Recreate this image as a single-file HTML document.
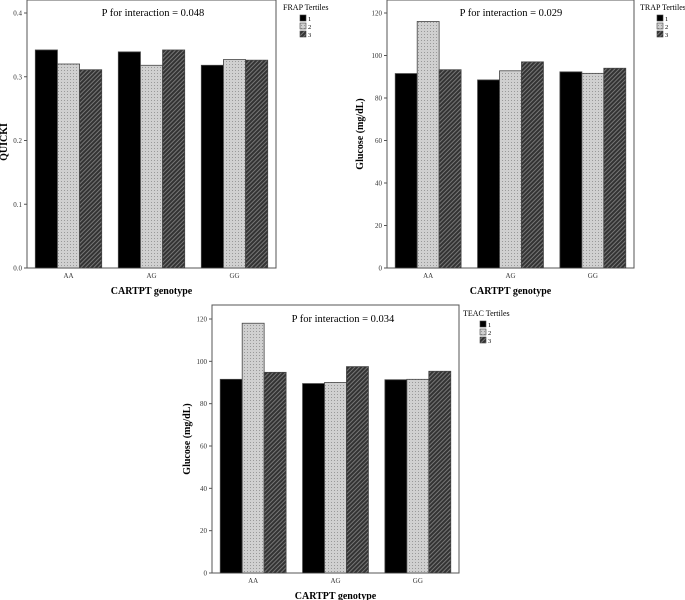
<!DOCTYPE html>
<html><head><meta charset="utf-8"><style>
body{margin:0;background:#fff;}
svg{display:block;font-family:"Liberation Serif",serif;}
</style></head><body>
<svg id="c" width="685" height="600" viewBox="0 0 685 600">
<defs>
<pattern id="dots" width="3" height="3" patternUnits="userSpaceOnUse">
<rect width="3" height="3" fill="#d0d0d0"/><rect x="1" y="1" width="1" height="1" fill="#999"/>
</pattern>
<pattern id="hatch" width="3" height="3" patternUnits="userSpaceOnUse" patternTransform="rotate(45)">
<rect width="3" height="3" fill="#333"/><rect width="1" height="3" fill="#777"/>
</pattern>
</defs>
</svg>
<script>
const categories = ["AA","AG","GG"];
const seriesNames = ["1","2","3"];
const quickiT1 = [0.342,0.339,0.318];
const quickiT2 = [0.320,0.318,0.327];
const quickiT3 = [0.311,0.342,0.326];
const quickiTicks = ["0.0","0.1","0.2","0.3","0.4"];
const trapT1 = [91.5,88.5,92.3];
const trapT2 = [116,92.8,91.6];
const trapT3 = [93.3,97,94];
const teacT1 = [91.5,89.5,91.3];
const teacT2 = [118,90,91.5];
const teacT3 = [94.8,97.5,95.3];
const glucoseTicks = ["0","20","40","60","80","100","120"];

const NS="http://www.w3.org/2000/svg";
const svg=document.getElementById('c');
function mk(tag,attrs,parent){const e=document.createElementNS(NS,tag);for(const k in attrs)e.setAttribute(k,attrs[k]);(parent||svg).appendChild(e);return e;}
const fills=["#000","url(#dots)","url(#hatch)"];

function chart(cfg){
  const g=mk('g',{});
  
  
  const {L,R,T,B,yTop,topVal,ticks,series}=cfg;
  const y=v=>B-(v/topVal)*(B-yTop);
  const step=(R-L)/3, bw=step*0.8/3;
  const frame=mk('rect',{x:L,y:T,width:R-L,height:B-T,fill:'none',stroke:'#555','stroke-width':1},g);
  
  
  ticks.forEach(t=>{
    const yy=y(parseFloat(t));
    const tl=mk('line',{x1:L-3,x2:L,y1:yy,y2:yy,stroke:'#555'},g);
    
    
    const tx=mk('text',{x:L-5,y:yy+2.5,'font-size':7,'text-anchor':'end',fill:'#333'},g);
    tx.textContent=t;
    
    
  });
  categories.forEach((c,i)=>{
    const cx=L+step*(i+0.5);
    series.forEach((s,j)=>{
      const v=s[i];
      const r=mk('rect',{x:cx-1.5*bw+j*bw,y:y(v),width:bw,height:B-y(v),fill:fills[j],stroke:'#444','stroke-width':0.8},g);
      
      
    });
    const xl=mk('text',{x:cx,y:B+10,'font-size':7,'text-anchor':'middle',fill:'#333'},g);
    xl.textContent=c;
    
    
  });
  const xt=mk('text',{x:(L+R)/2,y:B+26,'font-size':10,'font-weight':'bold','text-anchor':'middle'},g);
  xt.textContent='CARTPT genotype';
  
  
  const yt=mk('text',{x:0,y:0,'font-size':10,'font-weight':'bold','text-anchor':'middle',transform:`translate(${cfg.ytx},${cfg.yty}) rotate(-90)`},g);
  yt.textContent=cfg.ytitle;
  
  
  const pt=mk('text',{x:cfg.px,y:yTop+3,'font-size':10.5,'text-anchor':'middle'},g);
  pt.textContent=cfg.ptext;
  
  
  const lt=mk('text',{x:cfg.lx,y:cfg.ly,'font-size':8},g);
  lt.textContent=cfg.legend;
  
  
  seriesNames.forEach((n,j)=>{
    const sy=cfg.ly+5+j*8;
    const sw=mk('rect',{x:cfg.lx+17,y:sy,width:6,height:6,fill:fills[j],stroke:'#444','stroke-width':0.6},g);
    
    
    const st=mk('text',{x:cfg.lx+25,y:sy+6,'font-size':6.5},g);
    st.textContent=n;
    
    
  });
}
chart({name:'quicki-frap-chart',L:27,R:276,T:0,B:268,yTop:13,topVal:0.4,ticks:quickiTicks,series:[quickiT1,quickiT2,quickiT3],ytitle:'QUICKI',ytx:7,yty:142,ptext:'P  for interaction = 0.048',px:153,legend:'FRAP Tertiles',lx:283,ly:10});
chart({name:'glucose-trap-chart',L:387,R:634,T:0,B:268,yTop:13,topVal:120,ticks:glucoseTicks,series:[trapT1,trapT2,trapT3],ytitle:'Glucose (mg/dL)',ytx:363,yty:134,ptext:'P  for interaction = 0.029',px:511,legend:'TRAP Tertiles',lx:640,ly:10});
chart({name:'glucose-teac-chart',L:212,R:459,T:305,B:573,yTop:319,topVal:120,ticks:glucoseTicks,series:[teacT1,teacT2,teacT3],ytitle:'Glucose (mg/dL)',ytx:190,yty:439,ptext:'P  for interaction = 0.034',px:343,legend:'TEAC Tertiles',lx:463,ly:316});
</script>
</body></html>
